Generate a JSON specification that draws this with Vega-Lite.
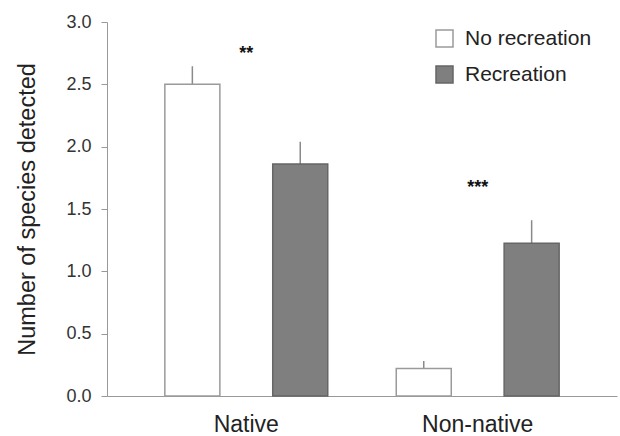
{
  "$schema": "https://vega.github.io/schema/vega-lite/v6.json",
  "width": 510,
  "height": 374,
  "autosize": "none",
  "padding": {"left": 107, "top": 22, "right": 3, "bottom": 40},
  "background": "white",
  "config": {
    "view": {"stroke": null},
    "font": "Liberation Sans",
    "axis": {"grid": false, "domainColor": "#999999", "tickColor": "#999999", "labelColor": "#333333", "titleColor": "#222222", "titleFontWeight": "normal"}
  },
  "datasets": {
    "bars": [
      {"group": "Native", "cond": "No recreation", "mean": 2.5, "upper": 2.645},
      {"group": "Native", "cond": "Recreation", "mean": 1.86, "upper": 2.04},
      {"group": "Non-native", "cond": "No recreation", "mean": 0.22, "upper": 0.28},
      {"group": "Non-native", "cond": "Recreation", "mean": 1.225, "upper": 1.41}
    ],
    "sig": [
      {"group": "Native", "y": 2.78, "label": "**"},
      {"group": "Non-native", "y": 1.71, "label": "***"}
    ]
  },
  "encoding": {
    "x": {
      "field": "group", "type": "nominal",
      "scale": {"domain": ["Native", "Non-native"], "paddingInner": 0.296, "paddingOuter": 0.25},
      "axis": {"title": null, "ticks": false, "labelAngle": 0, "labelFontSize": 23, "labelPadding": 17, "labelColor": "#222222"}
    }
  },
  "layer": [
    {
      "data": {"name": "bars"},
      "mark": {"type": "rule", "color": "#8a8a8a", "strokeWidth": 1.5},
      "encoding": {
        "xOffset": {"field": "cond", "type": "nominal", "scale": {"domain": ["No recreation", "Recreation"], "paddingInner": 0.49, "paddingOuter": 0}},
        "y": {"field": "mean", "type": "quantitative"},
        "y2": {"field": "upper"}
      }
    },
    {
      "data": {"name": "bars"},
      "mark": {"type": "bar", "strokeWidth": 1.5},
      "encoding": {
        "xOffset": {"field": "cond", "type": "nominal", "scale": {"domain": ["No recreation", "Recreation"], "paddingInner": 0.49, "paddingOuter": 0}},
        "y": {
          "field": "mean", "type": "quantitative",
          "scale": {"domain": [0, 3], "nice": false},
          "axis": {"title": "Number of species detected", "titleFontSize": 23.5, "titlePadding": 26, "values": [0, 0.5, 1, 1.5, 2, 2.5, 3], "format": ".1f", "labelFontSize": 18, "tickSize": 6, "labelPadding": 10}
        },
        "fill": {
          "field": "cond", "type": "nominal",
          "scale": {"domain": ["No recreation", "Recreation"], "range": ["#ffffff", "#7f7f7f"]},
          "legend": {"title": null, "orient": "none", "legendX": 327, "legendY": 6, "padding": 0, "symbolType": "square", "symbolSize": 289, "symbolStrokeWidth": 1.5, "labelFontSize": 21, "labelColor": "#222222", "labelOffset": 10, "rowPadding": 13}
        },
        "stroke": {
          "field": "cond", "type": "nominal",
          "scale": {"domain": ["No recreation", "Recreation"], "range": ["#9a9a9a", "#666666"]},
          "legend": {"title": null, "orient": "none", "legendX": 327, "legendY": 6, "padding": 0, "symbolType": "square", "symbolSize": 289, "symbolStrokeWidth": 1.5, "labelFontSize": 21, "labelColor": "#222222", "labelOffset": 10, "rowPadding": 13}
        }
      }
    },
    {
      "data": {"name": "sig"},
      "mark": {"type": "text", "fontSize": 18, "fontWeight": "bold", "color": "#111111", "baseline": "alphabetic", "dy": 10},
      "encoding": {
        "y": {"field": "y", "type": "quantitative"},
        "text": {"field": "label"}
      }
    }
  ]
}
